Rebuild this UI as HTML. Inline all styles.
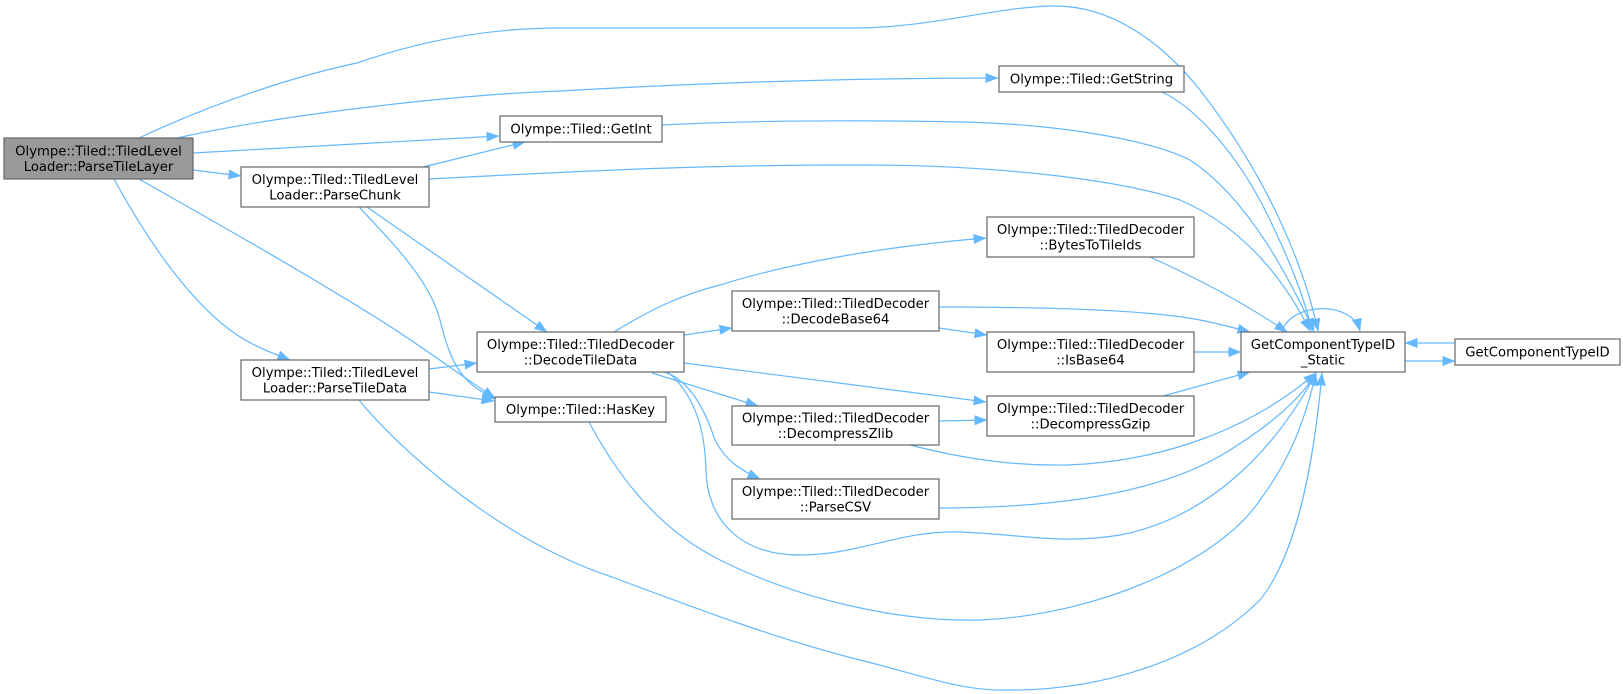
<!DOCTYPE html>
<html><head><meta charset="utf-8"><style>
html,body{margin:0;padding:0;background:#fff;}
svg{display:block;}
text{font-family:"DejaVu Sans","Liberation Sans",sans-serif;font-size:13.2px;fill:#000;}
.n{fill:#fff;stroke:#666;stroke-width:1.2;}
.e{fill:none;stroke:#63b8ff;stroke-width:1.2;}
</style></head><body>
<svg width="1623" height="694" viewBox="0 0 1623 694" xmlns="http://www.w3.org/2000/svg">
<defs>
<marker id="a" markerUnits="userSpaceOnUse" markerWidth="13" markerHeight="10" refX="12.5" refY="5" orient="auto">
<path d="M0,0 L13,5 L0,10 z" fill="#63b8ff"/>
</marker>
</defs>
<g marker-end="url(#a)">
<path class="e" d="M139,138 C220,100 300,75 357,63 C400,48 470,28 560,28 L854,28 C930,28 1000,6 1055,6 C1110,6 1160,40 1200,90 C1270,180 1305,270 1318,331"/>
<path class="e" d="M177,138 C280,115 450,95 560,91 C700,83 850,78 998,78"/>
<path class="e" d="M193,153 L499,136"/>
<path class="e" d="M193,170 L241,176"/>
<path class="e" d="M139,179 C220,225 300,270 380,320 C420,345 460,375 495,398"/>
<path class="e" d="M114,179 C150,245 190,300 230,330 C250,345 270,352 290,360"/>
<path class="e" d="M423,167 L525,142"/>
<path class="e" d="M429,179 C600,170 700,165 860,165 C1000,165 1120,180 1180,200 C1250,230 1290,290 1310,331"/>
<path class="e" d="M661,125 C760,120 860,120 960,122 C1060,124 1150,140 1190,160 C1250,200 1290,280 1314,331"/>
<path class="e" d="M1162,92 C1200,110 1240,160 1265,210 C1290,260 1305,300 1312,331"/>
<path class="e" d="M367,207 L547,332"/>
<path class="e" d="M359,207 C390,240 430,280 440,320 C450,360 460,385 497,399"/>
<path class="e" d="M429,369 L477,363"/>
<path class="e" d="M429,392 L494,401"/>
<path class="e" d="M359,400 C400,450 500,540 612,577 C700,610 780,640 860,660 C920,675 960,690 1000,690 C1100,692 1200,660 1260,600 C1300,550 1315,450 1322,373"/>
<path class="e" d="M589,422 C620,480 660,530 720,560 C800,600 900,622 980,620 C1100,615 1220,560 1260,500 C1290,460 1305,420 1316,373"/>
<path class="e" d="M668,372 C700,400 705,440 706,470 C707,520 740,555 800,555 C860,555 900,530 960,532 C1020,534 1060,545 1120,535 C1200,520 1270,460 1316,373"/>
<path class="e" d="M614,332 C650,310 680,295 720,285 C800,260 900,245 986,238"/>
<path class="e" d="M684,335 L732,328"/>
<path class="e" d="M684,363 L986,402"/>
<path class="e" d="M652,373 L758,406"/>
<path class="e" d="M664,372 C690,380 705,410 715,440 C725,460 740,470 760,479"/>
<path class="e" d="M939,307 C1050,307 1150,310 1200,320 C1220,324 1235,328 1250,332"/>
<path class="e" d="M939,328 L987,335"/>
<path class="e" d="M1150,257 C1190,275 1240,300 1287,332"/>
<path class="e" d="M1194,352 L1241,352"/>
<path class="e" d="M1163,396 L1250,372"/>
<path class="e" d="M939,421 L987,420"/>
<path class="e" d="M910,445 C960,458 1010,466 1067,465 C1160,462 1250,430 1316,373"/>
<path class="e" d="M939,508 C1050,508 1160,495 1230,450 C1270,425 1300,400 1316,373"/>
<path class="e" d="M1282,332 C1290,302 1352,300 1360,331"/>
<path class="e" d="M1405,361 L1455,361"/>
<path class="e" d="M1455,343 L1405,343"/>
</g>

<rect x="4" y="138" width="189" height="41" fill="#999" stroke="#666" stroke-width="1.2"/>
<text x="98.5" y="155.5" text-anchor="middle">Olympe::Tiled::TiledLevel</text>
<text x="98.5" y="171" text-anchor="middle">Loader::ParseTileLayer</text>

<rect class="n" x="241" y="167" width="188" height="40"/>
<text x="335" y="184" text-anchor="middle">Olympe::Tiled::TiledLevel</text>
<text x="335" y="199.5" text-anchor="middle">Loader::ParseChunk</text>

<rect class="n" x="241" y="360" width="188" height="40"/>
<text x="335" y="377" text-anchor="middle">Olympe::Tiled::TiledLevel</text>
<text x="335" y="392.5" text-anchor="middle">Loader::ParseTileData</text>

<rect class="n" x="500" y="116" width="162" height="26"/>
<text x="581" y="133.5" text-anchor="middle">Olympe::Tiled::GetInt</text>

<rect class="n" x="999" y="66" width="185" height="26"/>
<text x="1091.5" y="83.5" text-anchor="middle">Olympe::Tiled::GetString</text>

<rect class="n" x="477" y="332" width="207" height="40"/>
<text x="580.5" y="349" text-anchor="middle">Olympe::Tiled::TiledDecoder</text>
<text x="580.5" y="364.5" text-anchor="middle">::DecodeTileData</text>

<rect class="n" x="495" y="397" width="171" height="25"/>
<text x="580.5" y="414" text-anchor="middle">Olympe::Tiled::HasKey</text>

<rect class="n" x="732" y="291" width="207" height="40"/>
<text x="835.5" y="308" text-anchor="middle">Olympe::Tiled::TiledDecoder</text>
<text x="835.5" y="323.5" text-anchor="middle">::DecodeBase64</text>

<rect class="n" x="732" y="406" width="207" height="39"/>
<text x="835.5" y="422.5" text-anchor="middle">Olympe::Tiled::TiledDecoder</text>
<text x="835.5" y="438" text-anchor="middle">::DecompressZlib</text>

<rect class="n" x="732" y="479" width="207" height="40"/>
<text x="835.5" y="496" text-anchor="middle">Olympe::Tiled::TiledDecoder</text>
<text x="835.5" y="511.5" text-anchor="middle">::ParseCSV</text>

<rect class="n" x="987" y="217" width="207" height="40"/>
<text x="1090.5" y="234" text-anchor="middle">Olympe::Tiled::TiledDecoder</text>
<text x="1090.5" y="249.5" text-anchor="middle">::BytesToTileIds</text>

<rect class="n" x="987" y="332" width="207" height="40"/>
<text x="1090.5" y="349" text-anchor="middle">Olympe::Tiled::TiledDecoder</text>
<text x="1090.5" y="364.5" text-anchor="middle">::IsBase64</text>

<rect class="n" x="987" y="396" width="207" height="40"/>
<text x="1090.5" y="413" text-anchor="middle">Olympe::Tiled::TiledDecoder</text>
<text x="1090.5" y="428.5" text-anchor="middle">::DecompressGzip</text>

<rect class="n" x="1241" y="332" width="164" height="40"/>
<text x="1323" y="349" text-anchor="middle">GetComponentTypeID</text>
<text x="1323" y="364.5" text-anchor="middle">_Static</text>

<rect class="n" x="1455" y="339" width="165" height="26"/>
<text x="1537.5" y="356.5" text-anchor="middle">GetComponentTypeID</text>
</svg>
</body></html>
